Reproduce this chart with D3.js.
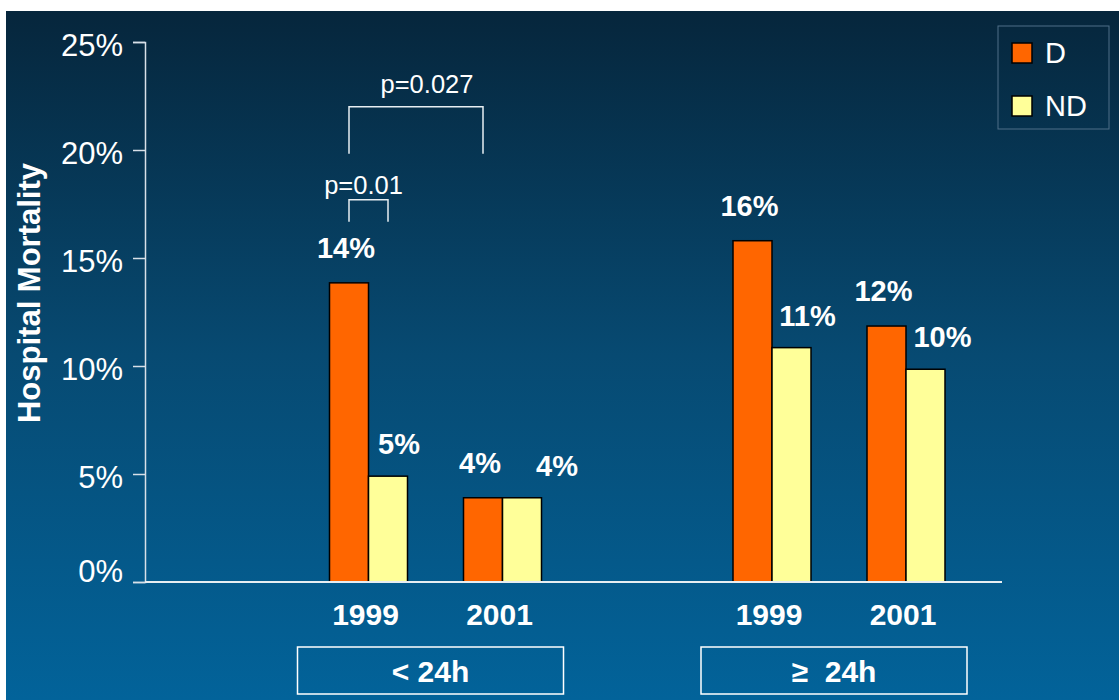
<!DOCTYPE html>
<html>
<head>
<meta charset="utf-8">
<script src="https://cdn.jsdelivr.net/npm/d3@7"></script>
<style>
  body { margin: 0; background: #fff; }
  svg { display: block; font-family: "Liberation Sans", Arial, sans-serif; }
</style>
</head>
<body>
<svg id="chart" width="1119" height="700"></svg>
<script>
// data
const groups = ['< 24h', '\u2265  24h'];
const years = ['1999', '2001'];
const seriesNames = ['D', 'ND'];
const valuesD = [13.85, 3.9, 15.8, 11.85];   // <24h 1999, <24h 2001, >=24h 1999, >=24h 2001
const valuesND = [4.9, 3.9, 10.85, 9.85];
const yTicks = [0, 5, 10, 15, 20, 25];
const pValues = [
    { text: 'p=0.01', from: [0, 0, 'D'], to: [0, 0, 'ND'], level: 17.7 },
    { text: 'p=0.027', from: [0, 0, 'D'], to: [0, 1, 'D'], level: 22.0 }
];

const colors = { D: '#ff6600', ND: '#ffff99' };
const fontFamily = '"Liberation Sans", Arial, sans-serif';

const svg = d3.select('#chart');
const W = 1119, H = 700;

// background gradient
const defs = svg.append('defs');
const grad = defs.append('linearGradient')
    .attr('id', 'bg').attr('x1', 0).attr('y1', 0).attr('x2', 0).attr('y2', 1);
grad.append('stop').attr('offset', '0%').attr('stop-color', '#06263c');
grad.append('stop').attr('offset', '50%').attr('stop-color', '#074a72');
grad.append('stop').attr('offset', '100%').attr('stop-color', '#02639a');

svg.append('rect').attr('x', 6).attr('y', 11)
    .attr('width', W - 6).attr('height', H - 11)
    .attr('fill', 'url(#bg)');

// scales
const y = d3.scaleLinear().domain([0, 25]).range([582, 42]);
const xGroup = d3.scalePoint().domain(groups).range([435.5, 839]);
const xYear = d3.scalePoint().domain(years).range([-67, 67]);
const barW = 39;

// build rows
const rows = [];
groups.forEach((g, gi) => {
    years.forEach((yr, yi) => {
        const idx = gi * 2 + yi;
        rows.push({ group: g, year: yr, series: 'D', value: valuesD[idx], gi, yi, idx });
        rows.push({ group: g, year: yr, series: 'ND', value: valuesND[idx], gi, yi, idx });
    });
});
const barX = d => xGroup(d.group) + xYear(d.year) + (d.series === 'D' ? -barW : 0);

// y axis
const yAxis = svg.append('g')
    .attr('transform', 'translate(145,0)')
    .call(d3.axisLeft(y).tickValues(yTicks).tickFormat(d => d + '%').tickSize(12).tickPadding(10));
yAxis.select('.domain').attr('stroke', '#d8e0e8').attr('stroke-width', 1.5);
yAxis.selectAll('.tick line').attr('stroke', '#d8e0e8').attr('stroke-width', 1.5);
yAxis.selectAll('.tick text')
    .attr('fill', '#fff').attr('font-size', 31).attr('font-family', fontFamily)
    .attr('y', d => d === 0 ? -12 : 2)
    .attr('dy', '0.36em');

// bars
svg.append('g').selectAll('rect')
    .data(rows)
    .join('rect')
    .attr('x', barX)
    .attr('y', d => y(d.value))
    .attr('width', barW)
    .attr('height', d => y(0) - y(d.value))
    .attr('fill', d => colors[d.series])
    .attr('stroke', '#000')
    .attr('stroke-width', 1.5);

// x axis line
svg.append('line')
    .attr('x1', 145).attr('x2', 1002)
    .attr('y1', y(0)).attr('y2', y(0))
    .attr('stroke', '#e8eef2').attr('stroke-width', 2);

// value labels (small horizontal nudges for the ND labels, as on the slide)
const ndNudge = [11, 35, 16, 17];
svg.append('g').selectAll('text')
    .data(rows)
    .join('text')
    .attr('x', d => barX(d) + barW / 2 + (d.series === 'ND' ? ndNudge[d.idx] : -3))
    .attr('y', d => y(d.value) - (d.series === 'ND' ? 22 : 25))
    .attr('text-anchor', 'middle')
    .attr('fill', '#fff')
    .attr('font-size', 29)
    .attr('font-weight', 'bold')
    .text(d => Math.round(d.value) + '%');

// year labels
svg.append('g').selectAll('text')
    .data(rows.filter(d => d.series === 'D'))
    .join('text')
    .attr('x', d => xGroup(d.group) + xYear(d.year) - 3)
    .attr('y', 625)
    .attr('text-anchor', 'middle')
    .attr('fill', '#fff')
    .attr('font-size', 30)
    .attr('font-weight', 'bold')
    .text(d => d.year);

// group boxes
const gBox = svg.append('g').selectAll('g')
    .data(groups)
    .join('g')
    .attr('transform', d => `translate(${xGroup(d) - 5},0)`);
gBox.append('rect')
    .attr('x', -133).attr('y', 647)
    .attr('width', 266).attr('height', 47)
    .attr('fill', 'none').attr('stroke', '#fff').attr('stroke-width', 1.5);
gBox.append('text')
    .attr('x', 0).attr('y', 682)
    .attr('text-anchor', 'middle')
    .attr('fill', '#fff')
    .attr('font-size', 30)
    .attr('font-weight', 'bold')
    .style('white-space', 'pre')
    .text(d => d);

// y axis title
svg.append('text')
    .attr('transform', 'translate(40,293) rotate(-90)')
    .attr('text-anchor', 'middle')
    .attr('fill', '#fff')
    .attr('font-size', 31)
    .attr('font-weight', 'bold')
    .text('Hospital Mortality');

// significance brackets
const centerOf = ([gi, yi, s]) => xGroup(groups[gi]) + xYear(years[yi]) + (s === 'D' ? -barW / 2 : barW / 2);
pValues.forEach((p, i) => {
    const x1 = centerOf(p.from), x2 = centerOf(p.to);
    const top = y(p.level);
    const drop = i === 1 ? 47 : 22;
    svg.append('path')
        .attr('d', `M${x1},${top + drop}V${top}H${x2}V${top + drop}`)
        .attr('fill', 'none')
        .attr('stroke', '#e8eef2')
        .attr('stroke-width', 1.5);
    svg.append('text')
        .attr('x', (x1 + x2) / 2 + (i === 1 ? 11 : -5))
        .attr('y', top - (i === 1 ? 14 : 6))
        .attr('text-anchor', 'middle')
        .attr('fill', '#fff')
        .attr('font-size', 25.5)
        .text(p.text);
});

// legend
const legend = svg.append('g').attr('transform', 'translate(998,26)');
legend.append('rect')
    .attr('width', 111).attr('height', 103)
    .attr('fill', 'none').attr('stroke', '#4f6f88').attr('stroke-width', 1);
seriesNames.forEach((s, i) => {
    const row = legend.append('g').attr('transform', `translate(14,${17 + i * 53})`);
    row.append('rect')
        .attr('width', 20).attr('height', 20)
        .attr('fill', colors[s]).attr('stroke', '#000').attr('stroke-width', 1.5);
    row.append('text')
        .attr('x', 33).attr('y', 20)
        .attr('fill', '#fff')
        .attr('font-size', 29)
        .text(s);
});
</script>
</body>
</html>
